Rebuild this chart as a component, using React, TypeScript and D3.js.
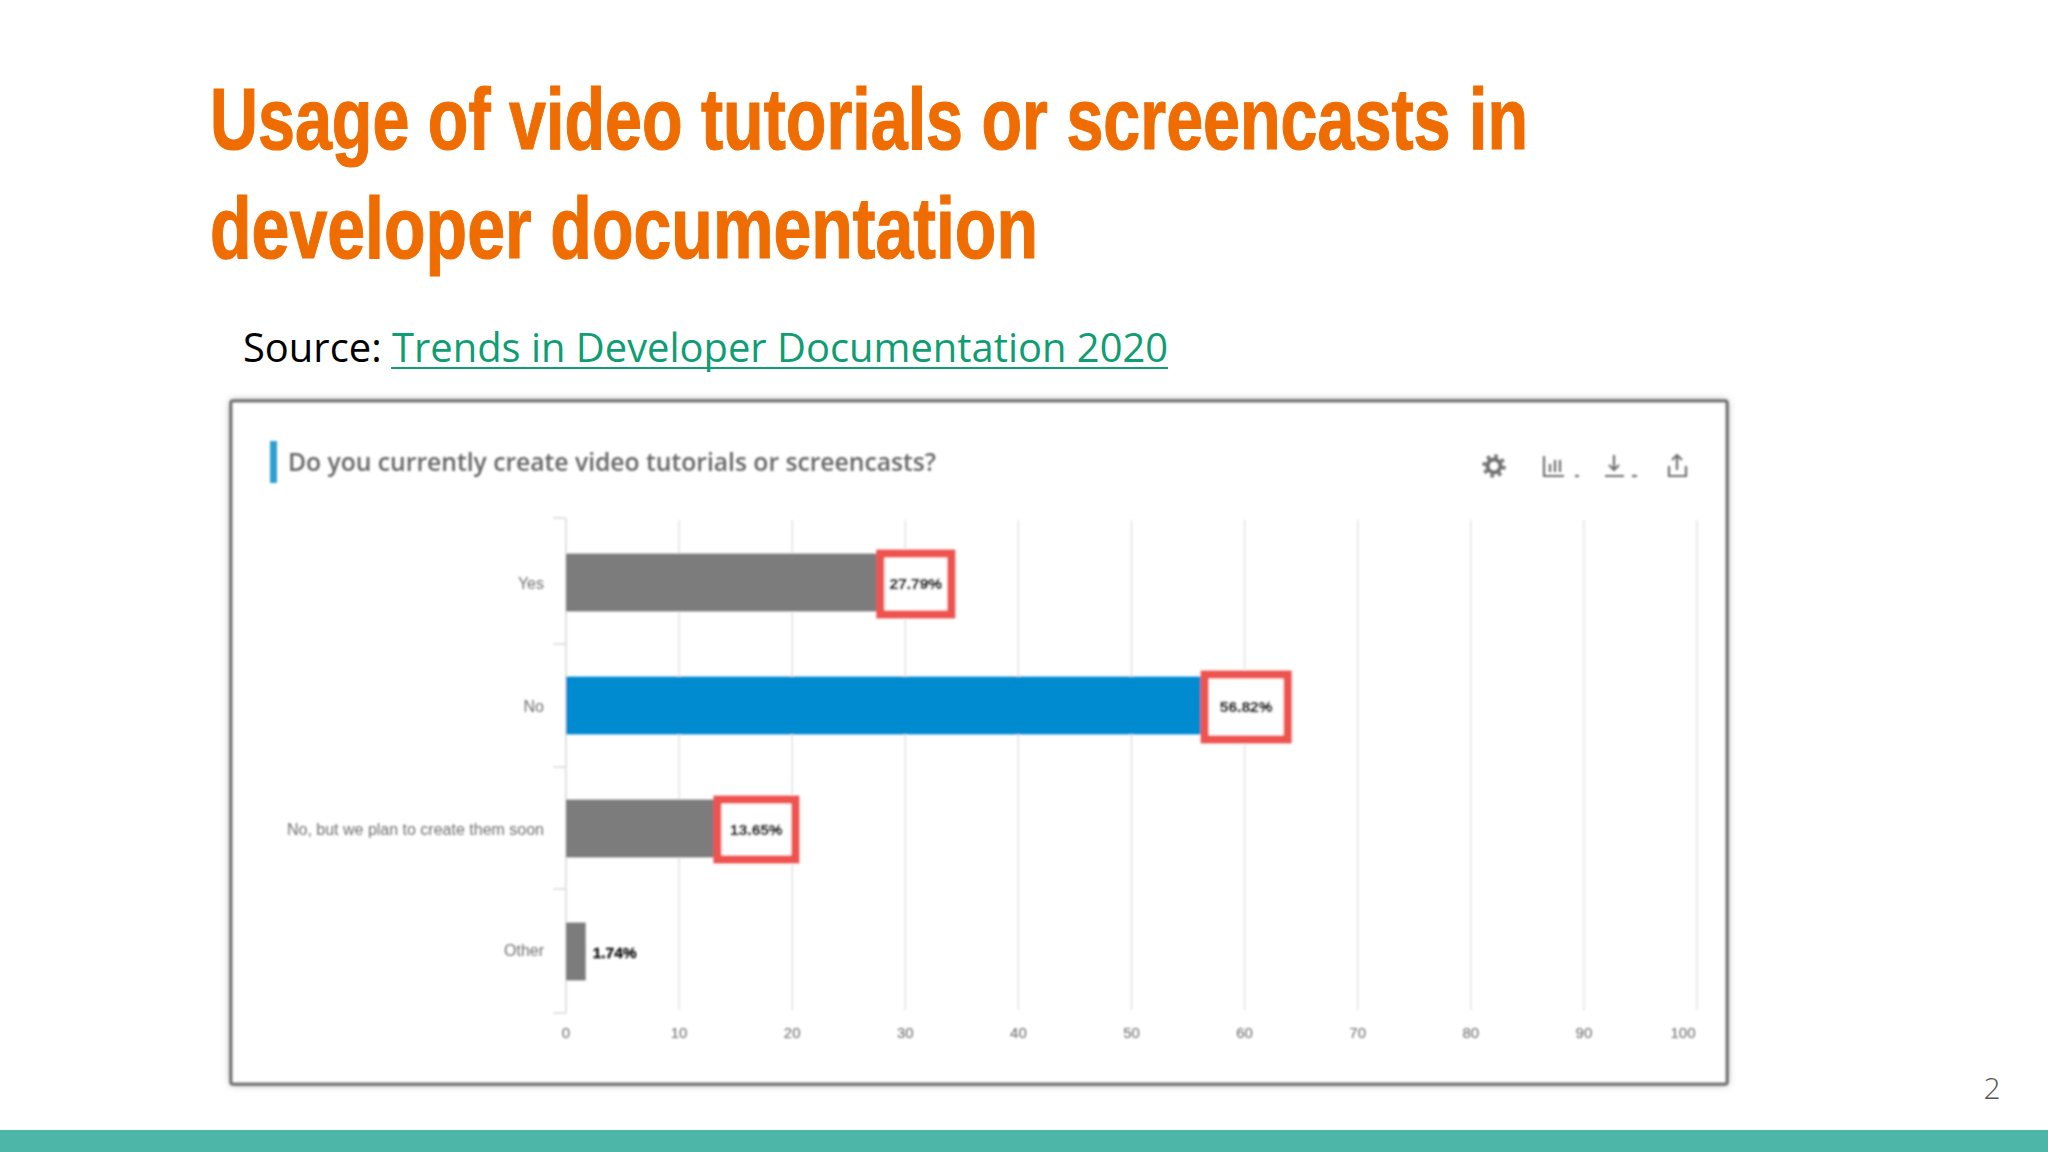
import React from "react";
import * as d3 from "d3";

const categories = ["Yes", "No", "No, but we plan to create them soon", "Other"];
const values = [27.79, 56.82, 13.65, 1.74];
const valueLabels = ["27.79%", "56.82%", "13.65%", "1.74%"];
const highlighted = [true, true, true, false];
const barColors = ["#7d7b7d", "#068ad0", "#7d7b7d", "#7d7b7d"];
const xTicks = [0, 10, 20, 30, 40, 50, 60, 70, 80, 90, 100];
const titleLines = ["Usage of video tutorials or screencasts in", "developer documentation"];

const W = 2048, H = 1152;
const x = d3.scaleLinear().domain([0, 100]).range([566, 1697]);
const y = d3.scaleBand<string>().domain(categories).range([521, 1013]).paddingInner(0.53).paddingOuter(0.265);

// red callout geometry relative to the bar end / bar band
const boxLeft = [-4, -8, -7, 0];
const boxWidth = [71, 83, 78, 0];
const boxTop = [0, -2, 0, 0];
const boxBottom = [3, 5, 2, 0];

export default function App() {
  const bw = y.bandwidth();
  return (
    <svg width={W} height={H} viewBox={`0 0 ${W} ${H}`} style={{ position: "absolute", left: 0, top: 0, background: "#fff" }}>
      <defs>
        <filter id="soft" x="-5%" y="-5%" width="110%" height="110%"><feGaussianBlur stdDeviation="0.8" /></filter>
        <filter id="shadow" x="-5%" y="-5%" width="110%" height="110%"><feGaussianBlur stdDeviation="4" /></filter>
        <filter id="edge" x="-5%" y="-5%" width="110%" height="110%"><feGaussianBlur stdDeviation="0.8" /></filter>
      </defs>
      {titleLines.map((t, i) => (
        <text key={t} x={210} y={149 + i * 109} fontFamily="'Liberation Sans Narrow','Liberation Sans'" fontWeight="700" fontSize={88} fill="#ef6c00"
          stroke="#ef6c00" strokeWidth={1.2}
          textLength={i === 0 ? 1318 : 828} lengthAdjust="spacingAndGlyphs">{t}</text>
      ))}
      <text x={243} y={362} fontFamily="'Open Sans'" fontSize={39.9} fill="#000">
        Source: <tspan fill="#0f9d73">Trends in Developer Documentation 2020</tspan>
      </text>
      <line x1={391} x2={1168} y1={368} y2={368} stroke="#0f9d73" strokeWidth={2} />

      <rect x={231} y={401} width={1496} height={683} fill="#999" filter="url(#shadow)" />
      <rect x={231} y={401} width={1496} height={683} fill="#fff" stroke="#777" strokeWidth={3.5} rx={2} filter="url(#edge)" />

      <g filter="url(#soft)">
        <rect x={270} y={441} width={7} height={42} fill="#2d9fd0" />
        <text x={288} y={471} fontFamily="'Open Sans'" fontWeight="600" fontSize={24.5} fill="#666" textLength={648} lengthAdjust="spacingAndGlyphs">
          Do you currently create video tutorials or screencasts?
        </text>

        <g fill="none" stroke="#707070" strokeWidth={2.2}>
          <circle cx={1494} cy={466} r={6.5} strokeWidth={4} />
          <circle cx={1494} cy={466} r={10} strokeWidth={3.5} strokeDasharray="3.5 4.35" />
          <path d="M1544 456 V476 H1564 M1550 472 V464 M1555 472 V460 M1560 472 V460" />
          <path d="M1575 476 h4" />
          <path d="M1614 455 V470 M1609 465 L1614 470 L1619 465 M1605 476 H1624" />
          <path d="M1632 476 h5" />
          <path d="M1677 470 V456 M1672 460 L1677 455 L1682 460 M1669 466 V476 H1686 V466" />
        </g>

        {xTicks.map(t => (
          <g key={t}>
            {t > 0 && <line x1={x(t)} x2={x(t)} y1={520} y2={1010} stroke="#e2e2e6" strokeWidth={1.5} />}
            <text x={t === 100 ? x(t) - 14 : x(t)} y={1038} textAnchor="middle" fontFamily="'Liberation Sans'" fontSize={15} fill="#666">{t}</text>
          </g>
        ))}
        <line x1={x(0)} x2={x(0)} y1={518} y2={1013} stroke="#d8d8db" strokeWidth={1.5} />
        {[518, 644, 767, 889, 1013].map(v => (
          <line key={v} x1={553} x2={566} y1={v} y2={v} stroke="#d8d8db" strokeWidth={1.5} />
        ))}

        {categories.map((c, i) => {
          const by = y(c)!;
          const bx = x(values[i]);
          const mid = by + bw / 2;
          const bl = bx + boxLeft[i] + 4;
          return (
            <g key={c}>
              <text x={544} y={mid + (i === 3 ? -1 : 1)} dy="0.33em" textAnchor="end" fontFamily="'Liberation Sans'" fontSize={16} fill="#6f6f6f">{c}</text>
              <rect x={x(0)} y={by} width={bx - x(0)} height={bw} fill={barColors[i]} />
              {highlighted[i] ? (
                <rect x={bl} y={by + boxTop[i]} width={boxWidth[i]} height={bw + boxBottom[i] - boxTop[i]} fill="#fff" stroke="#ee5350" strokeWidth={8} />
              ) : null}
              <text x={highlighted[i] ? bl + boxWidth[i] / 2 : bx + 29} y={mid + 1} dy="0.35em"
                textAnchor="middle" fontFamily="'Liberation Sans'" fontWeight="700" fontSize={15.5} fill="#111" stroke="#111" strokeWidth={0.4}>{valueLabels[i]}</text>
            </g>
          );
        })}
      </g>

      <text x={1992} y={1099} textAnchor="middle" fontFamily="'Open Sans'" fontWeight="300" fontSize={30} fill="#555">2</text>
      <rect x={0} y={1130} width={W} height={22} fill="#4db6a8" />
    </svg>
  );
}
